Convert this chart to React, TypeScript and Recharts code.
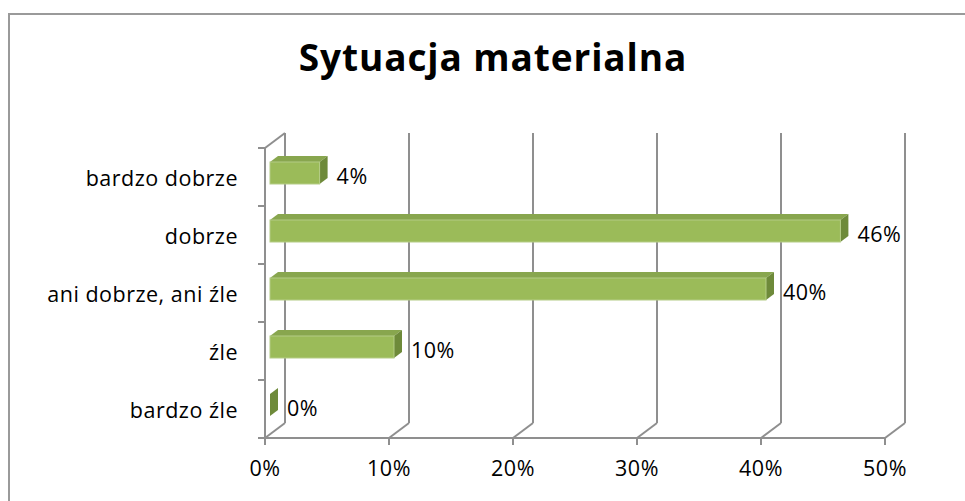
import React from "react";
import { BarChart, Bar, XAxis, YAxis, CartesianGrid, LabelList } from "recharts";

const categories = ["bardzo dobrze", "dobrze", "ani dobrze, ani źle", "źle", "bardzo źle"];
const percents = [4, 46, 40, 10, 0];
const xTicks = [0, 10, 20, 30, 40, 50];

const data = categories.map((name, i) => ({ name, value: percents[i] }));

const W = 965;
const H = 501;
const LEFT = 265;
const TOP = 148;
const RIGHT = 80;
const BOTTOM = 63;
const PLOT_H = H - TOP - BOTTOM;
const DEPTH_X = 20;
const DEPTH_Y = -15;
const BAR_OFF_X = 5;
const BAR_OFF_Y = -4;
const BAR_DX = 8;
const BAR_DY = -6;
const FONT = "'Open Sans', sans-serif";
const FS = 21.5;
const LS = 0.5;
const GRID = "#8f8f8f";

const Bar3D = (props: any) => {
  const { x, y, width, height } = props;
  const fx = x + BAR_OFF_X;
  const fy = y + BAR_OFF_Y;
  const w = Math.max(0, width);
  return (
    <g>
      <polygon
        points={`${fx},${fy} ${fx + BAR_DX},${fy + BAR_DY} ${fx + w + BAR_DX},${fy + BAR_DY} ${fx + w},${fy}`}
        fill="#88a64e"
      />
      <polygon
        points={`${fx + w},${fy} ${fx + w + BAR_DX},${fy + BAR_DY} ${fx + w + BAR_DX},${fy + height + BAR_DY} ${fx + w},${fy + height}`}
        fill="#6e8a3a"
      />
      {w > 0 && <rect x={fx} y={fy} width={w} height={height} fill="#9bbb59" stroke="#b4cc86" strokeWidth={1} />}
    </g>
  );
};

const GridLine = (props: any) => {
  const { x1, y1, y2, index } = props;
  return (
    <g key={`g-${index}`}>
      <line x1={x1 + DEPTH_X} y1={y1 + DEPTH_Y} x2={x1 + DEPTH_X} y2={y2 + DEPTH_Y} stroke={GRID} strokeWidth={2} />
      <line x1={x1} y1={y2} x2={x1 + DEPTH_X} y2={y2 + DEPTH_Y} stroke={GRID} strokeWidth={2} />
      {index === 0 && <line x1={x1} y1={y1} x2={x1 + DEPTH_X} y2={y1 + DEPTH_Y} stroke={GRID} strokeWidth={2} />}
    </g>
  );
};

const CatTick = (props: any) => {
  const { x, y, payload, index } = props;
  const band = PLOT_H / categories.length;
  return (
    <g>
      <text
        x={x}
        y={y}
        textAnchor="end"
        dominantBaseline="central"
        fontSize={FS}
        letterSpacing={LS}
        fill="#000"
        fontFamily={FONT}
      >
        {payload.value}
      </text>
      <line x1={LEFT - 7} y1={y - band / 2} x2={LEFT} y2={y - band / 2} stroke={GRID} strokeWidth={2} />
      {index === categories.length - 1 && (
        <line x1={LEFT - 7} y1={y + band / 2} x2={LEFT} y2={y + band / 2} stroke={GRID} strokeWidth={2} />
      )}
    </g>
  );
};

const ValueLabel = (props: any) => {
  const { x, y, width, height, value } = props;
  return (
    <text
      x={x + Math.max(0, width) + BAR_OFF_X + BAR_DX + 9}
      y={y + height / 2 - 2}
      dominantBaseline="central"
      fontSize={FS}
      letterSpacing={LS}
      fill="#000"
      fontFamily={FONT}
    >
      {`${value}%`}
    </text>
  );
};

export default function App() {
  return (
    <div style={{ position: "absolute", left: 0, top: 0, width: W, height: H, overflow: "hidden", background: "#fff" }}>
      <svg width={W} height={H} style={{ position: "absolute", left: 0, top: 0 }}>
        <rect x={9} y={14} width={1100} height={700} fill="none" stroke="#9a9a9a" strokeWidth={2} />
        <text
          x={493}
          y={71}
          textAnchor="middle"
          fontSize={37}
          fontWeight="bold"
          letterSpacing={0.9}
          fill="#000"
          fontFamily={FONT}
        >
          Sytuacja materialna
        </text>
      </svg>
      <div style={{ position: "absolute", left: 0, top: 0 }}>
        <BarChart
          width={W}
          height={H}
          data={data}
          layout="vertical"
          margin={{ top: TOP, right: RIGHT, bottom: BOTTOM - 30, left: 0 }}
          barSize={22}
        >
          <CartesianGrid horizontal={false} vertical={GridLine} />
          <XAxis
            type="number"
            domain={[0, 50]}
            ticks={xTicks}
            tickFormatter={(v: number) => `${v}%`}
            axisLine={{ stroke: GRID, strokeWidth: 2 }}
            tickLine={{ stroke: GRID, strokeWidth: 2 }}
            tickSize={7}
            tickMargin={16}
            height={30}
            tick={{ fontSize: FS, letterSpacing: LS, fill: "#000", fontFamily: FONT }}
            interval={0}
          />
          <YAxis
            type="category"
            dataKey="name"
            width={LEFT}
            axisLine={{ stroke: GRID, strokeWidth: 2 }}
            tickLine={false}
            tickSize={7}
            tickMargin={20}
            tick={<CatTick />}
            interval={0}
          />
          <Bar dataKey="value" shape={<Bar3D />} isAnimationActive={false}>
            <LabelList dataKey="value" content={<ValueLabel />} />
          </Bar>
        </BarChart>
      </div>
    </div>
  );
}
